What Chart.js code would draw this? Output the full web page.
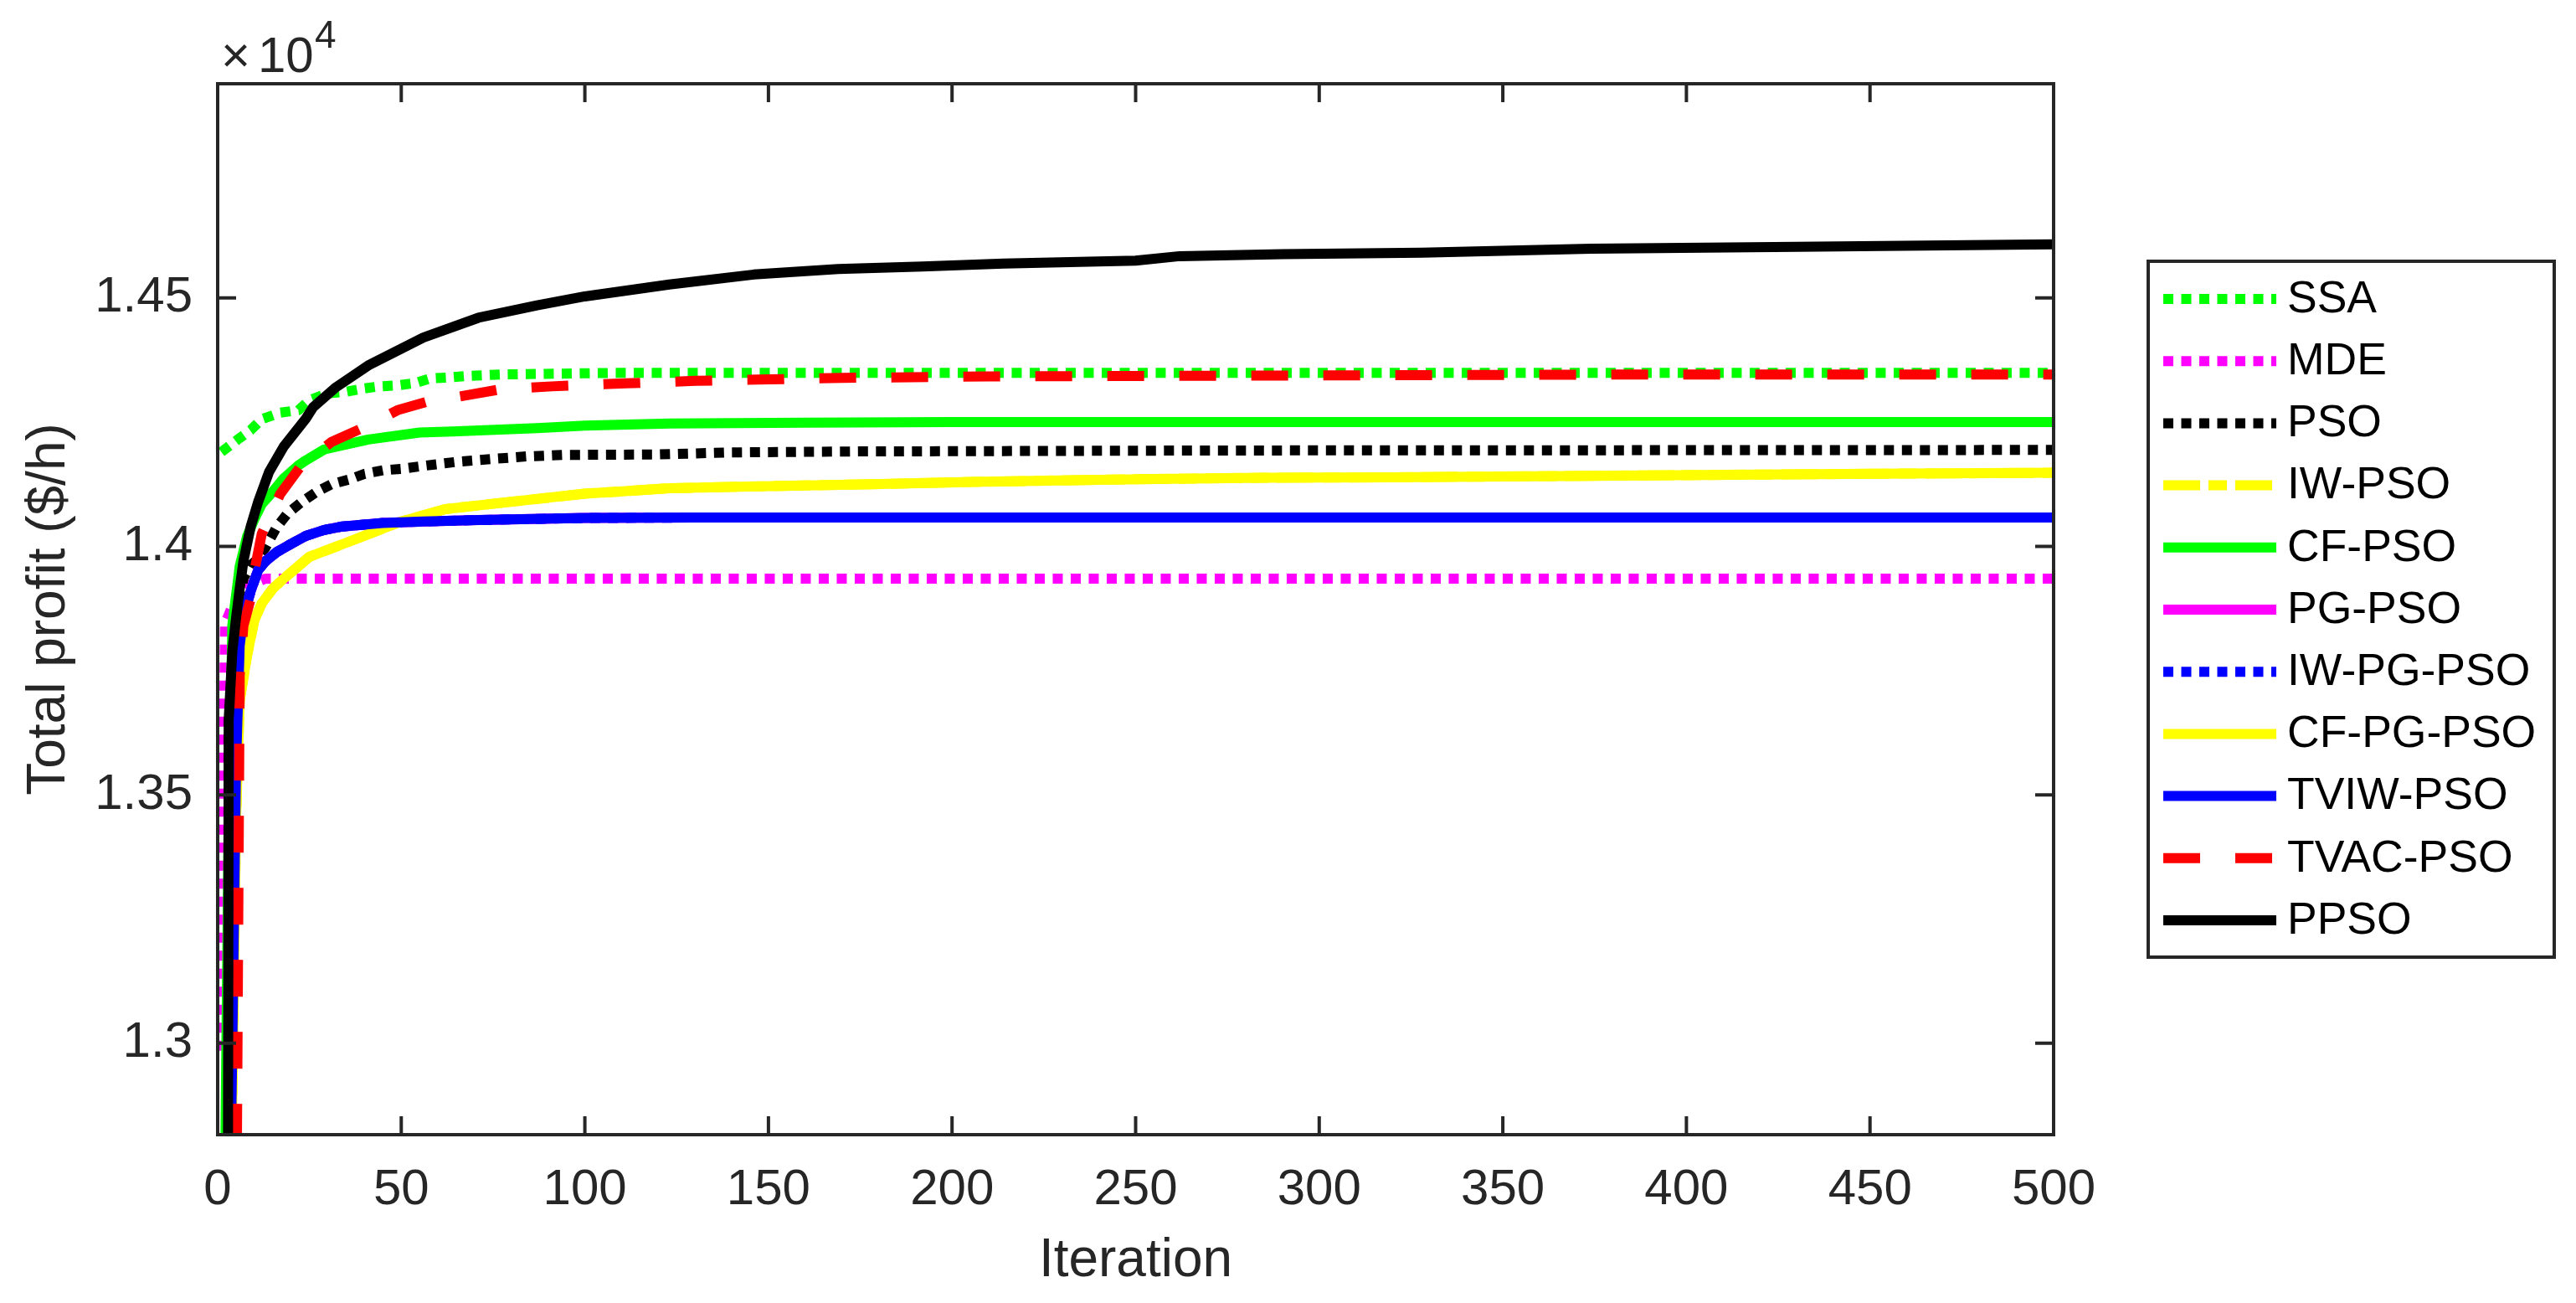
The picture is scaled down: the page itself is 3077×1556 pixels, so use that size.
<!DOCTYPE html>
<html>
<head>
<meta charset="utf-8">
<script src="https://cdn.jsdelivr.net/npm/chart.js@4.4.1/dist/chart.umd.min.js"></script>
<style>
    html, body { margin: 0; padding: 0; background: #fff; }
    canvas { display: block; }
</style>
</head>
<body>
<canvas id="chart" width="3077" height="1556"></canvas>
<script>
// series names, in plotting (and legend) order
const seriesNames = ['SSA', 'MDE', 'PSO', 'IW-PSO', 'CF-PSO', 'PG-PSO', 'IW-PG-PSO', 'CF-PG-PSO', 'TVIW-PSO', 'TVAC-PSO', 'PPSO'];

// [iteration, total profit] pairs
const ssa = [[1, 14190], [6, 14218], [9, 14234], [12, 14256], [17, 14269], [22, 14274], [25, 14294], [30, 14308], [35, 14311],
    [40, 14318], [44, 14322], [49, 14324], [54, 14329], [58, 14338], [63, 14340], [68, 14343], [78, 14346], [107, 14349], [500, 14349]];
const mde = [[1, 12985], [2, 13845], [3, 13862], [4, 13880], [8, 13920], [13, 13935], [500, 13935]];
const pso = [[2, 9000], [3, 13640], [5, 13850], [7, 13935], [9, 13962], [11, 13975], [13, 13997], [16, 14038], [19, 14066], [23, 14090],
    [27, 14110], [31, 14125], [36, 14135], [40, 14146], [45, 14153], [50, 14156], [55, 14161], [65, 14170], [75, 14176], [84, 14181],
    [94, 14184], [120, 14185], [140, 14189], [175, 14191], [275, 14193], [500, 14194]];
const cfPgPso = [[1, 11500], [4, 12900], [5, 13450], [6, 13690], [8, 13780], [10, 13852], [12, 13885], [15, 13915], [18, 13935],
    [25, 13979], [36, 14010], [50, 14050], [62, 14075], [79, 14089], [100, 14106], [111, 14111], [123, 14117], [142, 14120],
    [163, 14123], [178, 14125], [208, 14130], [240, 14134], [260, 14136], [285, 14138], [320, 14139], [374, 14142], [450, 14146], [500, 14148]];
// IW-PSO is hidden under the CF-PG-PSO curve
const iwPso = [[1, 11500], [4, 12900], [5, 13450], [6, 13690], [8, 13780], [10, 13852], [12, 13885], [15, 13915], [18, 13935],
    [25, 13979], [36, 14010], [50, 14050], [62, 14075], [79, 14089], [100, 14106], [111, 14111], [123, 14117], [142, 14120],
    [163, 14123], [178, 14125], [208, 14130], [240, 14134], [260, 14136], [285, 14138], [320, 14139], [374, 14142], [450, 14146], [500, 14148]];
const cfPso = [[1, 12000], [3, 13450], [4, 13842], [6, 13960], [8, 14020], [10, 14055], [12, 14085], [15, 14110], [18, 14137], [22, 14163],
    [24, 14173], [29, 14195], [41, 14215], [55, 14229], [64, 14231], [87, 14238], [100, 14243], [123, 14247], [160, 14249], [200, 14250], [500, 14250]];
const tviwPso = [[1, 11500], [4, 13000], [5, 13560], [6, 13800], [7, 13860], [9, 13910], [11, 13952], [13, 13970], [16, 13988], [20, 14005],
    [24, 14021], [29, 14033], [34, 14040], [45, 14047], [56, 14050], [71, 14053], [100, 14057], [130, 14058], [500, 14058]];
// PG-PSO and IW-PG-PSO are hidden under the TVIW-PSO curve
const pgPso = [[1, 11500], [4, 13000], [5, 13560], [6, 13800], [7, 13860], [9, 13910], [11, 13952], [13, 13970], [16, 13988], [20, 14005],
    [24, 14021], [29, 14033], [34, 14040], [45, 14047], [56, 14050], [71, 14053], [100, 14057], [130, 14058], [500, 14058]];
const iwPgPso = [[1, 11500], [4, 13000], [5, 13560], [6, 13800], [7, 13860], [9, 13910], [11, 13952], [13, 13970], [16, 13988], [20, 14005],
    [24, 14021], [29, 14033], [34, 14040], [45, 14047], [56, 14050], [71, 14053], [100, 14057], [130, 14058], [500, 14058]];
const tvacPso = [[1, 11500], [5, 12500], [6, 13740], [7, 13840], [9, 13895], [10, 13950], [12, 14025], [17, 14105], [23, 14165], [31, 14210],
    [40, 14240], [49, 14274], [57, 14291], [67, 14303], [77, 14316], [91, 14322], [111, 14328], [130, 14333], [150, 14336], [170, 14339],
    [210, 14342], [300, 14344], [400, 14346], [500, 14346]];
const ppso = [[2, 9000], [3, 13650], [4, 13790], [5, 13855], [6, 13915], [7, 13970], [9, 14040], [11, 14089], [14, 14150], [18, 14201],
    [24, 14257], [26, 14280], [32, 14319], [41, 14364], [56, 14420], [71, 14460], [87, 14485], [100, 14503], [123, 14527], [146, 14547],
    [169, 14558], [192, 14563], [214, 14569], [250, 14575], [262, 14584], [290, 14588], [328, 14591], [374, 14599], [430, 14603], [500, 14608]];

const series = [ssa, mde, pso, iwPso, cfPso, pgPso, iwPgPso, cfPgPso, tviwPso, tvacPso, ppso];

// axes
const xRange = [0, 500];
const yRange = [12816, 14931];
const yTicks = [13000, 13500, 14000, 14500];

// styles
const lineColors = ['#00ff00', '#ff00ff', '#000000', '#ffff00', '#00ff00', '#ff00ff', '#0000ff', '#ffff00', '#0000ff', '#ff0000', '#000000'];
const dot = [12, 9.5], dashDot = [44, 10, 22, 10], dashed = [44, 42], solid = [];
const lineDashes = [dot, dot, dot, dashDot, solid, solid, dot, solid, solid, dashed, solid];

const axisColor = '#262626';
const fontFamily = '"Liberation Sans", Arial, sans-serif';

// box, inward ticks and the x10^4 multiplier, drawn over the lines like MATLAB does
const matlabAxes = {
    id: 'matlabAxes',
    afterDatasetsDraw(chart) {
        const {ctx, chartArea: a, scales: {x, y}} = chart;
        ctx.save();
        ctx.strokeStyle = axisColor;
        ctx.lineWidth = 4;
        ctx.strokeRect(a.left, a.top, a.right - a.left, a.bottom - a.top);
        ctx.beginPath();
        x.ticks.forEach(t => {
            const px = x.getPixelForValue(t.value);
            ctx.moveTo(px, a.bottom);
            ctx.lineTo(px, a.bottom - 22);
            ctx.moveTo(px, a.top);
            ctx.lineTo(px, a.top + 22);
        });
        y.ticks.forEach(t => {
            const py = y.getPixelForValue(t.value);
            ctx.moveTo(a.left, py);
            ctx.lineTo(a.left + 22, py);
            ctx.moveTo(a.right, py);
            ctx.lineTo(a.right - 22, py);
        });
        ctx.stroke();

        ctx.fillStyle = axisColor;
        ctx.textBaseline = 'alphabetic';
        ctx.textAlign = 'left';
        ctx.font = '60px ' + fontFamily;
        ctx.fillText('\u00d7', a.left + 4, a.top - 14);
        ctx.fillText('10', a.left + 48, a.top - 14);
        ctx.font = '46px ' + fontFamily;
        ctx.fillText('4', a.left + 116, a.top - 43);
        ctx.restore();
    }
};

// framed legend to the right of the axes
const boxLegend = {
    id: 'boxLegend',
    afterDraw(chart) {
        const {ctx, chartArea: a} = chart;
        const left = a.right + 113;
        const width = 485;
        const height = 831;
        const top = (a.top + a.bottom) / 2 - height / 2;
        ctx.save();
        ctx.fillStyle = '#fff';
        ctx.fillRect(left, top, width, height);
        ctx.strokeStyle = axisColor;
        ctx.lineWidth = 4;
        ctx.strokeRect(left, top, width, height);
        chart.data.datasets.forEach((ds, i) => {
            const rowY = top + 45 + i * 74.2;
            ctx.strokeStyle = ds.borderColor;
            ctx.lineWidth = ds.borderWidth;
            ctx.lineCap = 'butt';
            ctx.setLineDash(ds.borderDash);
            ctx.beginPath();
            ctx.moveTo(left + 18, rowY);
            ctx.lineTo(left + 153, rowY);
            ctx.stroke();
            ctx.setLineDash([]);
            ctx.fillStyle = '#000';
            ctx.font = '53.5px ' + fontFamily;
            ctx.textAlign = 'left';
            ctx.textBaseline = 'middle';
            ctx.fillText(ds.label, left + 166, rowY + 1);
        });
        ctx.restore();
    }
};

const config = {
    type: 'line',
    data: {
        datasets: seriesNames.map((name, i) => ({
            label: name,
            data: series[i].map(([it, v]) => ({x: it, y: v})),
            borderColor: lineColors[i],
            backgroundColor: lineColors[i],
            borderWidth: 12,
            borderDash: lineDashes[i],
            borderCapStyle: 'butt',
            borderJoinStyle: 'round',
            pointRadius: 0,
            tension: 0,
            fill: false,
            clip: 0,
            // later series are drawn on top
            order: seriesNames.length - i
        }))
    },
    options: {
        responsive: false,
        animation: false,
        devicePixelRatio: 1,
        layout: {
            padding: {top: 100, right: 624, bottom: 0, left: 0}
        },
        plugins: {
            legend: {display: false},
            tooltip: {enabled: false}
        },
        scales: {
            x: {
                type: 'linear',
                min: xRange[0],
                max: xRange[1],
                grid: {display: false, drawTicks: false},
                border: {display: false},
                ticks: {
                    stepSize: 50,
                    autoSkip: false,
                    maxRotation: 0,
                    padding: 30,
                    color: axisColor,
                    font: {family: fontFamily, size: 60}
                },
                title: {
                    display: true,
                    text: 'Iteration',
                    color: axisColor,
                    font: {family: fontFamily, size: 64},
                    padding: {top: 0, bottom: 11}
                },
                afterFit: (scale) => {
                    scale.height = 201;
                }
            },
            y: {
                type: 'linear',
                min: yRange[0],
                max: yRange[1],
                grid: {display: false, drawTicks: false},
                border: {display: false},
                afterBuildTicks: (scale) => {
                    scale.ticks = yTicks.map(v => ({value: v}));
                },
                ticks: {
                    autoSkip: false,
                    padding: 30,
                    color: axisColor,
                    font: {family: fontFamily, size: 60},
                    callback: (value) => (value / 10000).toString()
                },
                title: {
                    display: true,
                    text: 'Total profit ($/h)',
                    color: axisColor,
                    font: {family: fontFamily, size: 64},
                    padding: {top: 21, bottom: 0}
                },
                afterFit: (scale) => {
                    scale.width = 260;
                }
            }
        }
    },
    plugins: [matlabAxes, boxLegend]
};

window.onload = () => {
    const ctx = document.getElementById('chart').getContext('2d');
    window.profitChart = new Chart(ctx, config);
};
</script>
</body>
</html>
